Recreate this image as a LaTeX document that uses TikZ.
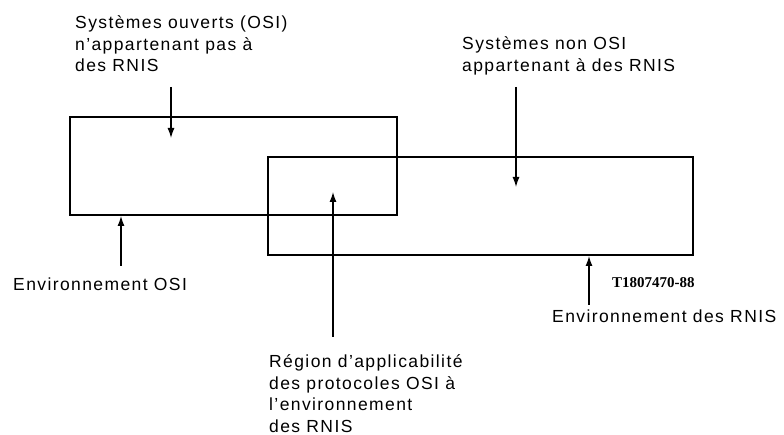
\documentclass[tikz,border=0pt]{standalone}
\usepackage{fontspec}
\setmainfont[LetterSpace=8]{Liberation Sans}
\newfontfamily\refserif{Liberation Serif}
\usetikzlibrary{arrows.meta}

\begin{document}
\begin{tikzpicture}[x=1pt,y=-1pt,>={Latex[length=10pt,width=7pt]},
    every node/.style={inner sep=0pt,font=\fontsize{17.5}{21.5}\selectfont},
    legende/.style={anchor=north west,align=left},
    zone/.style={draw,line width=2pt,minimum width=#1},
    fleche/.style={->,line width=1.3pt}]
\useasboundingbox (0,0) rectangle (784,435);
% environnements
\node[zone=327pt,minimum height=98pt] (osi) at (233.5,166) {};
\node[zone=425pt,minimum height=98pt] (rnis) at (480.5,206) {};
% textes
\node[legende] (sysosi) at (75,15.5) {Systèmes ouverts (OSI)\\n’appartenant pas à\\des RNIS};
\node[legende] (sysrnis) at (462,36.5) {Systèmes non OSI\\appartenant à des RNIS};
\node[legende] (envosi) at (13,277.5) {Environnement OSI};
\node[legende] (envrnis) at (552,309.5) {Environnement des RNIS};
\node[legende] (region) at (269,354.5) {Région d’applicabilité\\des protocoles OSI à\\l’environnement\\des RNIS};
\node[legende,font=\refserif\bfseries\fontsize{15}{17}\selectfont] (ref) at (612,277) {T1807470-88};
% fleches
\coordinate (a1) at (171,87);  \coordinate (b1) at (171,138);
\coordinate (a2) at (516,87);  \coordinate (b2) at (516,187);
\coordinate (a3) at (121,266);
\coordinate (a4) at (333,337); \coordinate (b4) at (333,192);
\coordinate (a5) at (589,305);
\draw[fleche] (a1) -- (b1);
\draw[fleche] (a2) -- (b2);
\draw[fleche] (a3) -- (a3 |- osi.south);
\draw[fleche] (a4) -- (b4);
\draw[fleche] (a5) -- (a5 |- rnis.south);
\end{tikzpicture}
\end{document}
